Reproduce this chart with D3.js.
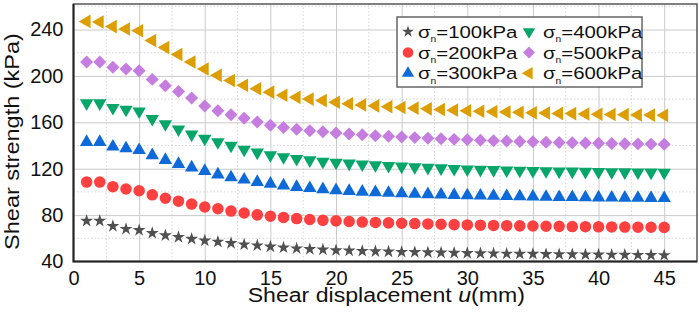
<!DOCTYPE html>
<html>
<head>
<meta charset="utf-8">
<script src="https://cdn.jsdelivr.net/npm/d3@7"></script>
<style>
  body { margin: 0; background: #fff; }
  svg { display: block; font-family: Arial, "Liberation Sans", sans-serif; }
</style>
</head>
<body>
<div id="chart"></div>
<script>
// shear displacement (mm)
const displacement = d3.range(1, 46);

const s100 = [75, 75, 70.5, 68, 67, 64.5, 62.5, 61, 59.5, 58, 57, 55.8, 54.6, 53.8, 52.8, 52, 51.2, 50.6, 50.2, 49.6,
  49.3, 49, 48.7, 48.5, 48.2, 48, 47.8, 47.6, 47.4, 47.2, 47, 46.9, 46.7, 46.6, 46.5, 46.3, 46.2, 46.1, 46, 45.9,
  45.8, 45.7, 45.6, 45.5, 45.4];
const s200 = [108.5, 108.5, 104.5, 102.5, 101, 97.5, 94.5, 92, 89.5, 87, 85.5, 83.5, 81.8, 80.2, 79, 78, 77, 76.2, 75.5, 75,
  74.5, 74, 73.7, 73.3, 73, 72.7, 72.4, 72.1, 71.8, 71.5, 71.3, 71.1, 70.9, 70.7, 70.6, 70.4, 70.3, 70.1, 70, 69.9,
  69.8, 69.7, 69.6, 69.5, 69.4];
const s300 = [143, 143, 139, 137.5, 136, 131.5, 127.5, 124, 121, 118, 115, 112.5, 110.5, 108.5, 107, 105.5, 104.2, 103.2, 102.2, 101.4,
  100.7, 100.1, 99.6, 99.1, 98.7, 98.3, 97.9, 97.6, 97.3, 97, 96.7, 96.5, 96.3, 96.1, 95.9, 95.7, 95.5, 95.4, 95.2, 95.1,
  95, 94.9, 94.8, 94.7, 94.6];
const s400 = [176.5, 176.5, 172.5, 171, 169.5, 163, 158.5, 154, 149.5, 146, 143, 140, 136.5, 134, 131.8, 130, 128.5, 127.3, 126.2, 125.3,
  124.5, 123.8, 123.1, 122.5, 122, 121.4, 120.9, 120.4, 119.9, 119.5, 119.2, 118.9, 118.6, 118.4, 118.2, 118, 117.8, 117.6, 117.4, 117.3,
  117.1, 117, 116.9, 116.8, 116.7];
const s500 = [212, 212, 207.5, 206, 204.5, 197, 191.5, 186.5, 181, 174, 170, 166.5, 163.5, 160.3, 157.5, 155.5, 154, 152.8, 151.8, 150.8,
  150, 149.2, 148.5, 147.9, 147.3, 146.8, 146.3, 145.8, 145.3, 144.9, 144.5, 144.1, 143.8, 143.5, 143.2, 142.9, 142.6, 142.4, 142.2, 142,
  141.8, 141.6, 141.4, 141.2, 141];
const s600 = [247, 246.5, 242.5, 240.5, 239, 230.5, 224.5, 218.5, 212, 206, 200.5, 196, 192, 189, 186, 183.3, 181.5, 180, 178.7, 177.3,
  176, 175, 174.2, 173.5, 172.8, 172.2, 171.6, 171, 170.5, 170, 169.6, 169.2, 168.9, 168.6, 168.3, 168, 167.7, 167.5, 167.2, 167,
  166.8, 166.6, 166.4, 166.2, 166];

const seriesNames = ["100", "200", "300", "400", "500", "600"];
const seriesValues = [s100, s200, s300, s400, s500, s600];
const seriesColors = ["#505050", "#ff4040", "#0d6ad8", "#06a56a", "#c57de0", "#dc9e00"];

const xTicks = [0, 5, 10, 15, 20, 25, 30, 35, 40, 45];
const yTicks = [40, 80, 120, 160, 200, 240];

// marker shapes: star, circle, up, down, diamond, left
const markers = [
  { type: d3.symbolStar, size: 52, rot: 0 },
  { type: d3.symbolCircle, size: 105, rot: 0 },
  { type: d3.symbolTriangle, size: 78, rot: 0 },
  { type: d3.symbolTriangle, size: 78, rot: 180 },
  { type: d3.symbolSquare, size: 84, rot: 45 },
  { type: d3.symbolTriangle, size: 80, rot: -90 }
];

const W = 699, H = 312;
const pLeft = 73.5, pRight = 697, pTop = 4, pBottom = 261.5;

const svg = d3.select("#chart").append("svg")
  .attr("width", W)
  .attr("height", H);

const x = d3.scaleLinear().domain([0, 47.5]).range([pLeft, pRight]);
const y = d3.scaleLinear().domain([40, 262]).range([pBottom, pTop]);

// minor grid (dotted)
const xMinor = d3.range(2.5, 47.5, 5);
const yMinor = d3.range(60, 262, 40);

svg.append("g")
  .selectAll("line")
  .data(xMinor)
  .join("line")
  .attr("x1", d => x(d)).attr("x2", d => x(d))
  .attr("y1", pTop).attr("y2", pBottom)
  .attr("stroke", "#d6d6d6")
  .attr("stroke-dasharray", "1.5,2");

svg.append("g")
  .selectAll("line")
  .data(yMinor)
  .join("line")
  .attr("x1", pLeft).attr("x2", pRight)
  .attr("y1", d => y(d)).attr("y2", d => y(d))
  .attr("stroke", "#d6d6d6")
  .attr("stroke-dasharray", "1.5,2");

// major grid
svg.append("g")
  .attr("transform", `translate(0,${pBottom})`)
  .call(d3.axisBottom(x).tickValues(xTicks.slice(1)).tickSize(-(pBottom - pTop)).tickFormat(""))
  .call(g => g.select(".domain").remove())
  .call(g => g.selectAll("line").attr("stroke", "#cacaca").attr("stroke-width", 1));

svg.append("g")
  .attr("transform", `translate(${pLeft},0)`)
  .call(d3.axisLeft(y).tickValues(yTicks.slice(1)).tickSize(-(pRight - pLeft)).tickFormat(""))
  .call(g => g.select(".domain").remove())
  .call(g => g.selectAll("line").attr("stroke", "#cacaca").attr("stroke-width", 1));

// frame
svg.append("rect")
  .attr("x", pLeft).attr("y", pTop)
  .attr("width", pRight - pLeft).attr("height", pBottom - pTop)
  .attr("fill", "none")
  .attr("stroke", "#555")
  .attr("stroke-width", 1.5);
svg.append("path")
  .attr("d", `M${pLeft},${pTop}V${pBottom}H${pRight}`)
  .attr("fill", "none")
  .attr("stroke", "#222")
  .attr("stroke-width", 2);

// tick labels
svg.append("g")
  .attr("transform", `translate(0,${pBottom})`)
  .call(d3.axisBottom(x).tickValues(xTicks).tickSize(0).tickPadding(9))
  .call(g => g.select(".domain").remove())
  .call(g => g.selectAll("text").attr("font-size", 20).attr("font-family", null).attr("fill", "#111"));

svg.append("g")
  .attr("transform", `translate(${pLeft},0)`)
  .call(d3.axisLeft(y).tickValues(yTicks).tickSize(0).tickPadding(10))
  .call(g => g.select(".domain").remove())
  .call(g => g.selectAll("text").attr("font-size", 20).attr("font-family", null).attr("fill", "#111"));

// axis titles (the source figure is stretched sideways a little)
const xt = svg.append("text")
  .attr("transform", `translate(${(pLeft + pRight) / 2 + 1},302) scale(1.1,1)`)
  .attr("text-anchor", "middle")
  .attr("font-size", 21)
  .attr("fill", "#111");
xt.append("tspan").text("Shear displacement ");
xt.append("tspan").attr("font-style", "italic").text("u");
xt.append("tspan").text("(mm)");

svg.append("text")
  .attr("transform", `translate(19,141.5) rotate(-90) scale(1.12,1)`)
  .attr("text-anchor", "middle")
  .attr("font-size", 21)
  .attr("fill", "#111")
  .text("Shear strength (kPa)");

// series
const symbolPath = m => d3.symbol().type(m.type).size(m.size)();

seriesValues.forEach((vals, i) => {
  const m = markers[i];
  svg.append("g")
    .selectAll("path")
    .data(vals)
    .join("path")
    .attr("d", symbolPath(m))
    .attr("transform", (d, j) => `translate(${x(displacement[j])},${y(d)}) rotate(${m.rot})`)
    .attr("fill", seriesColors[i]);
});

// legend
const lg = svg.append("g").attr("transform", "translate(397,17)");
lg.append("rect")
  .attr("width", 245).attr("height", 70)
  .attr("fill", "#fff")
  .attr("stroke", "#666")
  .attr("stroke-width", 1.5);

seriesNames.forEach((name, i) => {
  const col = Math.floor(i / 3), row = i % 3;
  const gx = col === 0 ? 11 : 132, gy = 14.7 + row * 20.8;
  const m = markers[i];
  lg.append("path")
    .attr("d", d3.symbol().type(m.type).size(m.size * 0.85)())
    .attr("transform", `translate(${gx},${gy}) rotate(${m.rot})`)
    .attr("fill", seriesColors[i]);
  const t = lg.append("text")
    .attr("transform", `translate(${gx + (col === 0 ? 10 : 14)},${gy + 6}) scale(1.2,1)`)
    .attr("font-size", 17)
    .attr("fill", "#111");
  t.append("tspan").text("σ");
  t.append("tspan").attr("font-size", 8.5).attr("dy", 4.5).text("n");
  t.append("tspan").attr("dy", -4.5).text("=" + name + "kPa");
});
</script>
</body>
</html>
